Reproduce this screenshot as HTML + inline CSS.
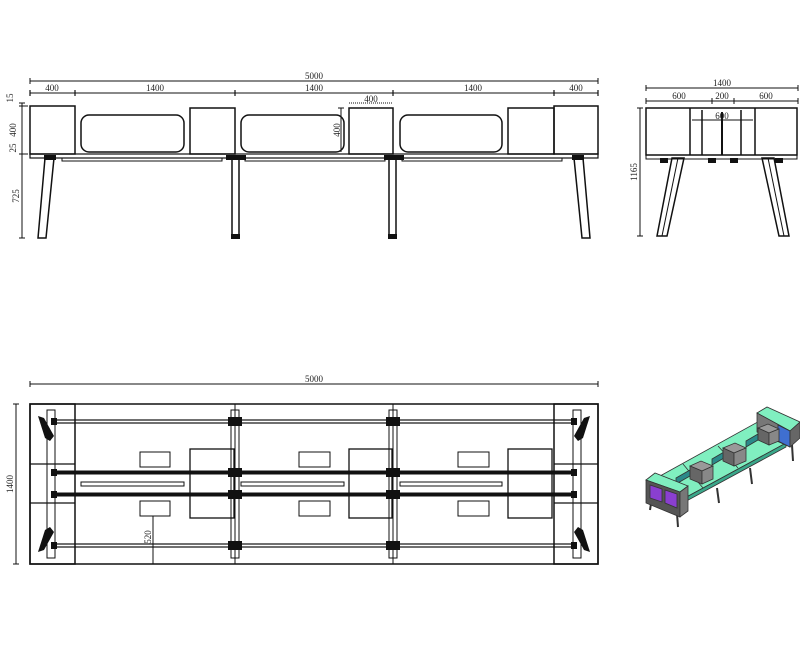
<!DOCTYPE html>
<html><head><meta charset="utf-8"><style>
html,body{margin:0;padding:0;background:#fff;width:800px;height:659px;overflow:hidden}
svg{display:block}
text{font-family:"Liberation Serif",serif;font-size:9px;fill:#222}
</style></head><body>
<svg width="800" height="659" viewBox="0 0 800 659" xmlns="http://www.w3.org/2000/svg">
<g stroke="#111" fill="none" stroke-width="1">
<!-- ===== FRONT VIEW ===== -->
<line x1="30" y1="81" x2="598" y2="81"/>
<line x1="30" y1="78" x2="30" y2="84"/><line x1="598" y1="78" x2="598" y2="84"/>
<line x1="30" y1="93" x2="598" y2="93"/>
<g stroke-width="1.2">
<line x1="30" y1="90" x2="30" y2="96"/><line x1="75" y1="90" x2="75" y2="96"/><line x1="235" y1="90" x2="235" y2="96"/><line x1="393" y1="90" x2="393" y2="96"/><line x1="554" y1="90" x2="554" y2="96"/><line x1="598" y1="90" x2="598" y2="96"/>
</g>
<g stroke-width="1.5">
<rect x="30" y="106" width="45" height="48"/>
<rect x="190" y="108" width="45" height="46"/>
<rect x="349" y="108" width="44" height="46"/>
<rect x="508" y="108" width="46" height="46"/>
<rect x="554" y="106" width="44" height="48"/>
<rect x="81" y="115" width="103" height="37" rx="8"/>
<rect x="241" y="115" width="103" height="37" rx="8"/>
<rect x="400" y="115" width="102" height="37" rx="8"/>
</g>
<rect x="30" y="154" width="568" height="4" stroke-width="1.2"/>
<line x1="60" y1="158" x2="570" y2="158"/>
<rect x="62" y="158" width="160" height="3"/><rect x="245" y="158" width="140" height="3"/><rect x="402" y="158" width="160" height="3"/>
<polygon points="45,158 54,158 46,238 38,238" stroke-width="1.5"/>
<rect x="232" y="158" width="7" height="80" stroke-width="1.5"/>
<rect x="389" y="158" width="7" height="80" stroke-width="1.5"/>
<polygon points="574,158 583,158 590,238 582,238" stroke-width="1.5"/>
<g fill="#111" stroke="none">
<rect x="226" y="155" width="20" height="5"/><rect x="384" y="155" width="20" height="5"/>
<rect x="44" y="155" width="12" height="5"/><rect x="572" y="155" width="12" height="5"/>
<rect x="231" y="234" width="9" height="5"/><rect x="388" y="234" width="9" height="5"/>
</g>
<line x1="22" y1="103" x2="22" y2="238"/>
<line x1="19" y1="103" x2="25" y2="103"/><line x1="19" y1="106" x2="28" y2="106"/><line x1="19" y1="154" x2="28" y2="154"/><line x1="19" y1="238" x2="25" y2="238"/>
<line x1="349" y1="103" x2="393" y2="103" stroke-dasharray="1 1"/>
<line x1="341" y1="108" x2="341" y2="152"/><line x1="338" y1="108" x2="344" y2="108"/>

<!-- ===== SIDE VIEW ===== -->
<line x1="646" y1="88" x2="798" y2="88"/>
<line x1="646" y1="85" x2="646" y2="91"/><line x1="798" y1="85" x2="798" y2="91"/>
<line x1="646" y1="101" x2="798" y2="101"/>
<line x1="646" y1="98" x2="646" y2="104"/><line x1="712" y1="98" x2="712" y2="104"/><line x1="734" y1="98" x2="734" y2="104"/><line x1="798" y1="98" x2="798" y2="104"/>
<rect x="646" y="108" width="151" height="47" stroke-width="1.5"/>
<line x1="690" y1="108" x2="690" y2="155" stroke-width="1.5"/>
<line x1="755" y1="108" x2="755" y2="155" stroke-width="1.5"/>
<line x1="702" y1="110" x2="702" y2="155" stroke-width="1.5"/>
<line x1="741" y1="110" x2="741" y2="155" stroke-width="1.5"/>
<line x1="722" y1="112" x2="722" y2="155" stroke-width="2"/>
<line x1="692" y1="120" x2="753" y2="120"/>
<rect x="646" y="155" width="151" height="4"/>
<g fill="#111" stroke="none"><rect x="660" y="158" width="8" height="5"/><rect x="708" y="158" width="8" height="5"/><rect x="730" y="158" width="8" height="5"/><rect x="775" y="158" width="8" height="5"/></g>
<polygon points="672,158 684,158 667,236 657,236" stroke-width="1.5"/>
<line x1="678" y1="158" x2="662" y2="236"/>
<polygon points="762,158 774,158 789,236 779,236" stroke-width="1.5"/>
<line x1="768" y1="158" x2="784" y2="236"/>
<line x1="640" y1="108" x2="640" y2="236"/>
<line x1="637" y1="108" x2="643" y2="108"/><line x1="637" y1="236" x2="643" y2="236"/>

<!-- ===== PLAN VIEW ===== -->
<line x1="30" y1="384" x2="598" y2="384"/>
<line x1="30" y1="381" x2="30" y2="387"/><line x1="598" y1="381" x2="598" y2="387"/>
<line x1="16" y1="404" x2="16" y2="564"/>
<line x1="13" y1="404" x2="19" y2="404"/><line x1="13" y1="564" x2="19" y2="564"/>
<rect x="30" y="404" width="568" height="160" stroke-width="1.5"/>
<rect x="30" y="404" width="45" height="160" stroke-width="1.5"/>
<rect x="554" y="404" width="44" height="160" stroke-width="1.5"/>
<line x1="30" y1="464" x2="75" y2="464" stroke-width="1.3"/><line x1="30" y1="503" x2="75" y2="503" stroke-width="1.3"/>
<line x1="554" y1="464" x2="598" y2="464" stroke-width="1.3"/><line x1="554" y1="503" x2="598" y2="503" stroke-width="1.3"/>
<rect x="47" y="410" width="8" height="148"/><rect x="573" y="410" width="8" height="148"/>
<line x1="235" y1="404" x2="235" y2="564"/><line x1="393" y1="404" x2="393" y2="564"/>
<rect x="231" y="410" width="8" height="148"/><rect x="389" y="410" width="8" height="148"/>
<g stroke-width="1.2">
<rect x="55" y="420" width="519" height="3"/>
<rect x="55" y="544" width="519" height="3"/>
</g>
<rect x="55" y="471" width="519" height="3" fill="#111"/>
<rect x="55" y="493" width="519" height="3" fill="#111"/>
<rect x="81" y="482" width="103" height="4"/><rect x="241" y="482" width="103" height="4"/><rect x="400" y="482" width="102" height="4"/>
<rect x="140" y="452" width="30" height="15"/><rect x="140" y="501" width="30" height="15"/>
<rect x="299" y="452" width="31" height="15"/><rect x="299" y="501" width="31" height="15"/>
<rect x="458" y="452" width="31" height="15"/><rect x="458" y="501" width="31" height="15"/>
<rect x="190" y="449" width="44" height="69" stroke-width="1.3"/>
<rect x="349" y="449" width="43" height="69" stroke-width="1.3"/>
<rect x="508" y="449" width="44" height="69" stroke-width="1.3"/>
<line x1="153" y1="516" x2="153" y2="564"/>
<g fill="#111" stroke="none">
<rect x="228" y="417" width="14" height="9"/><rect x="228" y="468" width="14" height="9"/><rect x="228" y="490" width="14" height="9"/><rect x="228" y="541" width="14" height="9"/>
<rect x="386" y="417" width="14" height="9"/><rect x="386" y="468" width="14" height="9"/><rect x="386" y="490" width="14" height="9"/><rect x="386" y="541" width="14" height="9"/>
<rect x="51" y="418" width="6" height="7"/><rect x="51" y="469" width="6" height="7"/><rect x="51" y="491" width="6" height="7"/><rect x="51" y="542" width="6" height="7"/>
<rect x="571" y="418" width="6" height="7"/><rect x="571" y="469" width="6" height="7"/><rect x="571" y="491" width="6" height="7"/><rect x="571" y="542" width="6" height="7"/>
<polygon points="38,416 44,418 54,436 50,441 45,438"/>
<polygon points="38,552 44,550 54,532 50,527 45,530"/>
<polygon points="590,416 584,418 574,436 578,441 583,438"/>
<polygon points="590,552 584,550 574,532 578,527 583,530"/>
</g>
</g>

<!-- ===== ISO VIEW ===== -->
<g stroke="#333" stroke-width="0.8">
<!-- legs -->
<g stroke-width="2">
<line x1="652" y1="497" x2="650" y2="510"/><line x1="676" y1="500" x2="678" y2="527"/>
<line x1="717" y1="488" x2="719" y2="503"/><line x1="750" y1="468" x2="752" y2="484"/><line x1="792" y1="445" x2="793" y2="461"/>
</g>
<!-- desk surface -->
<polygon points="660,476 765,418 786,443 681,500" fill="#80efc0"/>
<polygon points="681,500 786,443 786,447 681,504" fill="#3aa78a"/>
<line x1="703" y1="488" x2="683" y2="464"/><line x1="738" y1="468" x2="718" y2="446"/>
<!-- panels -->
<polygon points="676,478 690,470 690,476 676,484" fill="#2a8a8a"/>
<polygon points="712,459 724,452 724,458 712,465" fill="#2a8a8a"/>
<polygon points="746,441 758,434 758,440 746,447" fill="#2a8a8a"/>
<!-- left end block -->
<polygon points="646,480 655,473 688,486 680,492" fill="#80efc0"/>
<polygon points="646,480 680,492 680,517 646,503" fill="#555"/>
<polygon points="650,485 662,489 662,502 650,498" fill="#8a3fd0"/>
<polygon points="665,490 677,494 677,508 665,503" fill="#8a3fd0"/>
<polygon points="680,492 688,486 688,511 680,517" fill="#777"/>
<!-- right end block -->
<polygon points="757,413 767,407 800,422 790,431" fill="#80efc0"/>
<polygon points="757,413 790,431 790,447 757,432" fill="#777"/>
<polygon points="778,425 790,431 790,447 778,441" fill="#3f6fd0"/>
<polygon points="790,431 800,422 800,438 790,447" fill="#666"/>
<!-- cubes -->
<polygon points="690,466 701,461 713,466 702,471" fill="#999"/>
<polygon points="690,466 702,471 702,484 690,479" fill="#666"/>
<polygon points="702,471 713,466 713,479 702,484" fill="#888"/>
<polygon points="723,448 735,443 746,448 734,453" fill="#999"/>
<polygon points="723,448 734,453 734,466 723,461" fill="#666"/>
<polygon points="734,453 746,448 746,461 734,466" fill="#888"/>
<polygon points="758,428 768,424 779,429 769,433" fill="#999"/>
<polygon points="758,428 769,433 769,445 758,440" fill="#666"/>
<polygon points="769,433 779,429 779,441 769,445" fill="#888"/>
</g>

<!-- text -->
<text x="314" y="79" text-anchor="middle">5000</text>
<text x="52" y="91" text-anchor="middle">400</text>
<text x="155" y="91" text-anchor="middle">1400</text>
<text x="314" y="91" text-anchor="middle">1400</text>
<text x="473" y="91" text-anchor="middle">1400</text>
<text x="576" y="91" text-anchor="middle">400</text>
<text x="371" y="102" text-anchor="middle">400</text>
<text transform="translate(13,98) rotate(-90)" text-anchor="middle">15</text>
<text transform="translate(16,130) rotate(-90)" text-anchor="middle">400</text>
<text transform="translate(16,148) rotate(-90)" text-anchor="middle">25</text>
<text transform="translate(19,196) rotate(-90)" text-anchor="middle">725</text>
<text transform="translate(340,130) rotate(-90)" text-anchor="middle">400</text>
<text x="722" y="86" text-anchor="middle">1400</text>
<text x="679" y="99" text-anchor="middle">600</text>
<text x="722" y="99" text-anchor="middle">200</text>
<text x="766" y="99" text-anchor="middle">600</text>
<text x="722" y="119" text-anchor="middle">600</text>
<text transform="translate(637,172) rotate(-90)" text-anchor="middle">1165</text>
<text x="314" y="382" text-anchor="middle">5000</text>
<text transform="translate(13,484) rotate(-90)" text-anchor="middle">1400</text>
<text transform="translate(151,537) rotate(-90)" text-anchor="middle">520</text>
</svg>
</body></html>
